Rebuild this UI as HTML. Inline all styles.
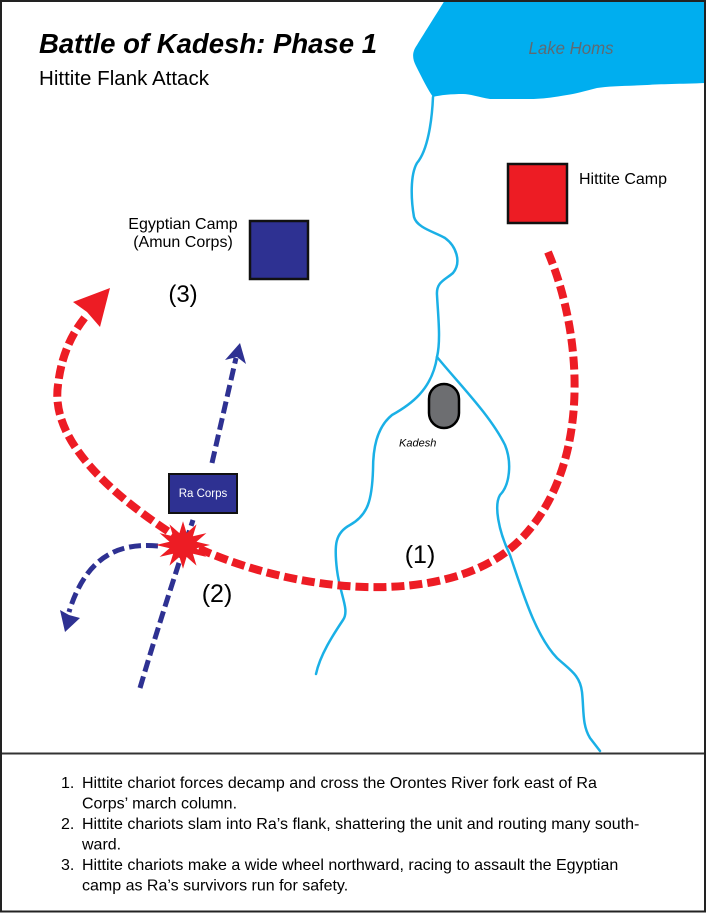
<!DOCTYPE html>
<html>
<head>
<meta charset="utf-8">
<style>
html,body{margin:0;padding:0;background:#fff;}
svg{display:block;}
text{font-family:"Liberation Sans",Arial,sans-serif;}
</style>
</head>
<body>
<svg width="706" height="913" viewBox="0 0 706 913" xmlns="http://www.w3.org/2000/svg">
<rect x="0" y="0" width="706" height="913" fill="#fff"/>

<!-- Lake -->
<path d="M445,0 L706,0 L706,83 C680,84 660,84 647,85 C625,86 610,86 597,88 C585,91 575,94 567,95 C550,98 540,99 530,99 C515,99 500,99 490,99 C478,97 470,94 463,94 C452,94 440,95 433,97 C428,90 422,78 416,66 C412,58 412,52 417,45 C425,32 437,13 445,0 Z" fill="#00aeef"/>
<text x="571" y="54" font-size="17.5" font-style="italic" fill="#5f6a72" text-anchor="middle" textLength="85" lengthAdjust="spacingAndGlyphs">Lake Homs</text>

<!-- River -->
<g fill="none" stroke="#1ab0e6" stroke-width="2.5" stroke-linecap="round" stroke-linejoin="round">
<path d="M433,97 C432,120 428,150 417,163 C410,175 411,200 414,217 C417,228 435,232 445,238 C456,246 462,262 453,273 C445,280 436,282 437,295 C438,315 441,340 437,357"/>
<path d="M437,357 C432,390 410,405 392,415 C376,428 373,450 373,470 C372,500 368,515 350,525 C335,533 334,545 337,570 C340,595 350,610 343,620 C333,635 320,655 316,674"/>
<path d="M437,357 C460,385 490,415 505,445 C512,462 510,485 500,495 C494,505 498,530 510,555 C522,590 535,635 557,658 C570,670 580,675 582,692 C584,710 582,725 590,738 L600,751"/>
</g>

<!-- Kadesh -->
<rect x="429" y="384" width="30" height="44" rx="15" ry="15" fill="#6d6e71" stroke="#000" stroke-width="2.5"/>
<text x="399" y="446.5" font-size="11" font-style="italic" fill="#000">Kadesh</text>

<!-- Hittite camp -->
<rect x="508" y="164" width="59" height="59" fill="#ed1c24" stroke="#111" stroke-width="2.5"/>
<text x="579" y="184" font-size="16" fill="#000">Hittite Camp</text>

<!-- Egyptian camp -->
<rect x="250" y="221" width="58" height="58" fill="#2e3192" stroke="#111" stroke-width="2.5"/>
<text x="183" y="229" font-size="16" fill="#000" text-anchor="middle">Egyptian Camp</text>
<text x="183" y="247" font-size="16" fill="#000" text-anchor="middle">(Amun Corps)</text>
<text x="183" y="302" font-size="24" fill="#000" text-anchor="middle">(3)</text>

<!-- Title -->
<text x="39" y="53" font-size="27.5" font-weight="bold" font-style="italic" fill="#000" textLength="338" lengthAdjust="spacingAndGlyphs">Battle of Kadesh: Phase 1</text>
<text x="39" y="85" font-size="20" fill="#000" textLength="170" lengthAdjust="spacingAndGlyphs">Hittite Flank Attack</text>

<!-- Blue dashed paths -->
<g fill="none" stroke="#2e3192" stroke-width="5" stroke-dasharray="12,5">
<path d="M212,463 L236,358"/>
<path d="M140,688 C160,620 180,560 193,520"/>
<path d="M158,546 C115,542 85,560 69,612"/>
</g>
<polygon points="240,343 225,360 237,357 246,364" fill="#2e3192"/>
<polygon points="65,632 60,610 69,615 80,618" fill="#2e3192"/>

<!-- Red dashed paths -->
<g fill="none" stroke="#ed1c24" stroke-width="8" stroke-dasharray="13,5">
<path d="M548,252 C585,340 590,470 520,540 C450,610 290,595 183,541"/>
<path d="M183,541 C110,495 50,440 58,385 C62,350 75,330 86,316"/>
</g>
<polygon points="110,288 73,302 87,312 100,327" fill="#ed1c24"/>

<!-- Ra Corps -->
<rect x="169" y="474" width="68" height="39" fill="#2e3192" stroke="#111" stroke-width="2"/>
<text x="203" y="497" font-size="11.5" fill="#fff" text-anchor="middle">Ra Corps</text>

<!-- Star -->
<polygon fill="#ed1c24" points="210,545 196.5,548.2 206.4,556.9 192.9,553.7 196.5,565.6 186.6,556.9 183,568.8 179.4,556.9 169.5,565.6 173.1,553.7 159.6,556.9 169.5,548.2 156,545 169.5,541.8 159.6,533.1 173.1,536.3 169.5,524.4 179.4,533.1 183,521.2 186.6,533.1 196.5,524.4 192.9,536.3 206.4,533.1 196.5,541.8"/>

<text x="420" y="563" font-size="25" fill="#000" text-anchor="middle">(1)</text>
<text x="217" y="602" font-size="25" fill="#000" text-anchor="middle">(2)</text>

<!-- Divider and frame -->
<line x1="0" y1="753.5" x2="706" y2="753.5" stroke="#333" stroke-width="2"/>
<rect x="1" y="1" width="704" height="910.5" fill="none" stroke="#222" stroke-width="2"/>

<!-- Legend text -->
<g font-size="16" fill="#000">
<text x="61" y="788">1.</text>
<text x="82" y="788">Hittite chariot forces decamp and cross the Orontes River fork east of Ra</text>
<text x="82" y="808.5">Corps’ march column.</text>
<text x="61" y="829">2.</text>
<text x="82" y="829">Hittite chariots slam into Ra’s flank, shattering the unit and routing many south-</text>
<text x="82" y="849.5">ward.</text>
<text x="61" y="870">3.</text>
<text x="82" y="870">Hittite chariots make a wide wheel northward, racing to assault the Egyptian</text>
<text x="82" y="890.5">camp as Ra’s survivors run for safety.</text>
</g>
</svg>
</body>
</html>
